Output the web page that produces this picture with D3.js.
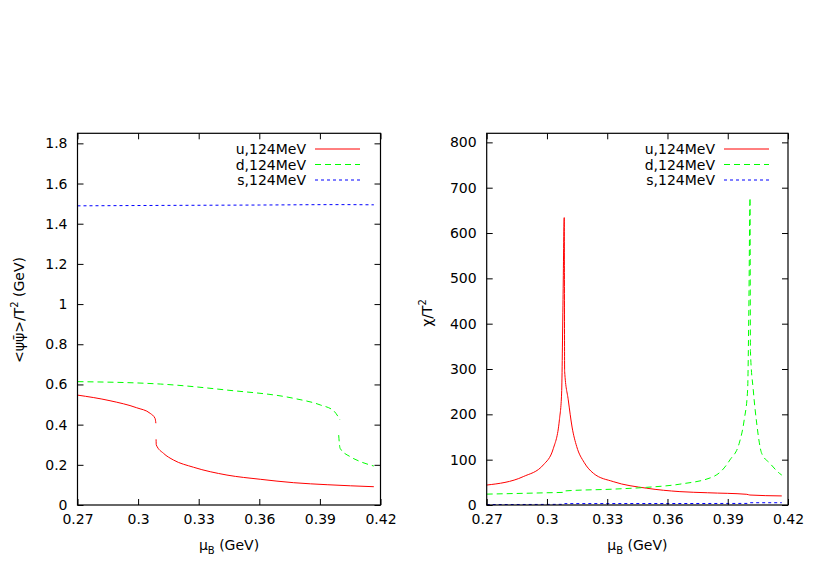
<!DOCTYPE html>
<html>
<head>
<meta charset="utf-8">
<script src="https://cdn.jsdelivr.net/npm/d3@7"></script>
<style>
  body { margin: 0; background: #fff; }
  text { font-family: "DejaVu Sans", "Liberation Sans", Arial, sans-serif; fill: #000; }
</style>
</head>
<body>
<div id="chart"></div>
<script>
// data, [muB (GeV), value]
var xTicks = [0.27, 0.30, 0.33, 0.36, 0.39, 0.42];
var leftYTicks = [0, 0.2, 0.4, 0.6, 0.8, 1.0, 1.2, 1.4, 1.6, 1.8];
var rightYTicks = [0, 100, 200, 300, 400, 500, 600, 700, 800];
var legendNames = ["u,124MeV", "d,124MeV", "s,124MeV"];

// condensate, null = gap at the jump
var condU = [[0.27, 0.547], [0.2861, 0.519], [0.2993, 0.484], [0.306, 0.456], [0.3084, 0.431], [0.3088, 0.407],
  null,
  [0.3089, 0.327], [0.309, 0.299], [0.3126, 0.257], [0.3175, 0.224], [0.3274, 0.188], [0.344, 0.149],
  [0.3605, 0.128], [0.377, 0.111], [0.3936, 0.101], [0.4167, 0.091]];
var condD = [[0.27, 0.614], [0.311, 0.602], [0.344, 0.572], [0.377, 0.531], [0.3902, 0.498], [0.3968, 0.469], [0.400, 0.423],
  null,
  [0.3993, 0.348], [0.400, 0.282], [0.4051, 0.240], [0.410, 0.216], [0.4167, 0.194]];
var condS = [[0.27, 1.489], [0.31, 1.491], [0.36, 1.493], [0.40, 1.495], [0.4167, 1.494]];

// susceptibility
var chiU = [[0.27, 44], [0.2882, 62.6], [0.2982, 88.5], [0.3032, 125], [0.3062, 188], [0.3073, 247], [0.3080, 453],
  [0.3086, 634], [0.3088, 295], [0.3106, 232], [0.3125, 172], [0.3148, 129], [0.3185, 94], [0.3231, 70],
  [0.333, 51.6], [0.3497, 37], [0.3662, 29.5], [0.38, 27], [0.3995, 23.6], [0.401, 22], [0.4169, 20]];
var chiD = [[0.27, 24], [0.2999, 27], [0.3086, 28], [0.3088, 31], [0.333, 35], [0.3497, 39], [0.3662, 46],
  [0.3828, 62.6], [0.3866, 74], [0.3911, 99.5], [0.3957, 136], [0.3982, 188], [0.3999, 254], [0.4005, 430],
  [0.4011, 678], [0.4013, 339], [0.4027, 254], [0.4044, 181], [0.4069, 114], [0.411, 92], [0.4157, 70], [0.4169, 66]];
var chiS = [[0.27, 1], [0.3086, 1.5], [0.3088, 3], [0.40, 3.5], [0.401, 5], [0.4169, 5]];

var colors = ["#ff0000", "#00ff00", "#0000ff"];
var dashes = [null, "6,4", "3,3"];

var svgWidth = 817;
var svgHeight = 572;

var svg = d3.select("#chart")
  .append("svg")
  .attr("width", svgWidth)
  .attr("height", svgHeight);

function drawPanel(opts) {
  var x = d3.scaleLinear().domain([0.27, 0.42]).range([opts.left, opts.right]);
  var y = d3.scaleLinear().domain(opts.yDomain).range([505, 133.3]);
  var g = svg.append("g");

  // curves
  var line = d3.line()
    .defined(d => d !== null)
    .curve(d3.curveMonotoneX)
    .x(d => x(d[0]))
    .y(d => y(d[1]));

  opts.series.forEach(function(s, i) {
    g.append("path")
      .datum(s)
      .attr("d", line)
      .attr("fill", "none")
      .attr("stroke", colors[i])
      .attr("stroke-width", 1)
      .attr("stroke-dasharray", dashes[i]);
  });

  // axes with inward ticks, mirrored
  var fmt = d3.format("~g");
  g.append("g")
    .attr("transform", "translate(0,505)")
    .call(d3.axisBottom(x).tickValues(xTicks).tickSize(-6).tickPadding(9).tickFormat(fmt));
  g.append("g")
    .attr("transform", "translate(0,133.3)")
    .call(d3.axisTop(x).tickValues(xTicks).tickSize(-6).tickFormat(""));
  g.append("g")
    .attr("transform", `translate(${opts.left},0)`)
    .call(d3.axisLeft(y).tickValues(opts.yTicks).tickSize(-6).tickPadding(10).tickFormat(fmt));
  g.append("g")
    .attr("transform", `translate(${opts.right},0)`)
    .call(d3.axisRight(y).tickValues(opts.yTicks).tickSize(-6).tickFormat(""));

  g.selectAll(".domain").remove();
  g.selectAll(".tick line").attr("stroke", "#000").attr("stroke-width", 1);
  g.selectAll(".tick text")
    .attr("font-family", "DejaVu Sans, Liberation Sans, sans-serif")
    .attr("font-size", 14)
    .attr("fill", "#000");

  g.append("rect")
    .attr("x", opts.left)
    .attr("y", 133.3)
    .attr("width", opts.right - opts.left)
    .attr("height", 505 - 133.3)
    .attr("fill", "none")
    .attr("stroke", "#000")
    .attr("stroke-width", 1.2);

  // legend
  legendNames.forEach(function(name, i) {
    var ly = 149 + i * 15.5;
    g.append("text")
      .attr("x", opts.legendX)
      .attr("y", ly)
      .attr("dy", "0.36em")
      .attr("text-anchor", "end")
      .style("font-size", "14px")
      .text(name);
    g.append("line")
      .attr("x1", opts.legendX + 9)
      .attr("x2", opts.legendX + 54)
      .attr("y1", ly)
      .attr("y2", ly)
      .attr("stroke", colors[i])
      .attr("stroke-dasharray", dashes[i]);
  });

  // x label
  var xl = g.append("text")
    .attr("x", (opts.left + opts.right) / 2)
    .attr("y", 550)
    .attr("text-anchor", "middle")
    .style("font-size", "14px");
  xl.append("tspan").text("μ");
  xl.append("tspan").attr("dy", 4).style("font-size", "10px").text("B");
  xl.append("tspan").attr("dy", -4).text(" (GeV)");

  // y label
  var yl = g.append("text")
    .attr("transform", `translate(${opts.yLabelX},${opts.yLabelY}) rotate(-90)`)
    .attr("text-anchor", "middle")
    .style("font-size", "14px");
  opts.yLabel(yl);
}

drawPanel({
  left: 77.5, right: 380.5,
  yDomain: [0, 1.85],
  yTicks: leftYTicks,
  series: [condU, condD, condS],
  legendX: 306,
  yLabelX: 24, yLabelY: 310,
  yLabel: function(t) {
    t.append("tspan").text("<ψψ\u0304>/T");
    t.append("tspan").attr("dy", -6).style("font-size", "10px").text("2");
    t.append("tspan").attr("dy", 6).text(" (GeV)");
  }
});

drawPanel({
  left: 486.7, right: 788,
  yDomain: [0, 820],
  yTicks: rightYTicks,
  series: [chiU, chiD, chiS],
  legendX: 715,
  yLabelX: 432, yLabelY: 313,
  yLabel: function(t) {
    t.append("tspan").text("χ/T");
    t.append("tspan").attr("dy", -6).style("font-size", "10px").text("2");
  }
});
</script>
</body>
</html>
